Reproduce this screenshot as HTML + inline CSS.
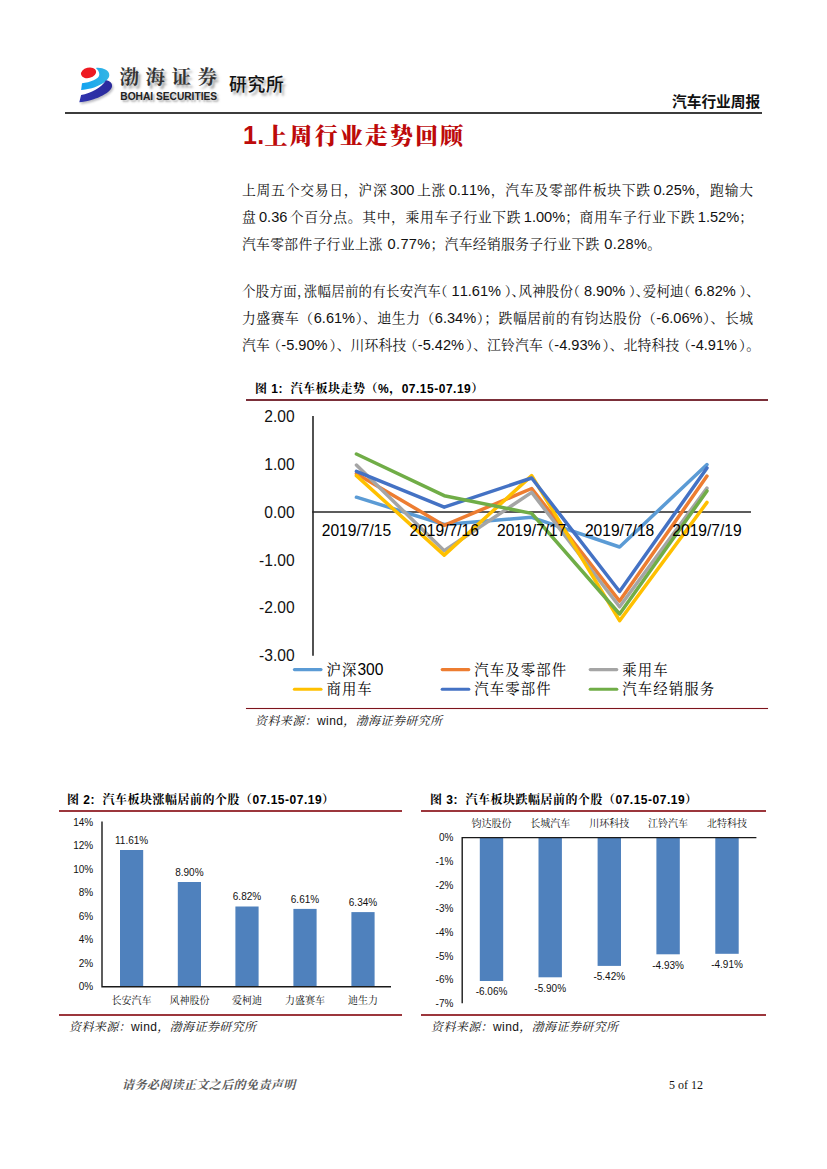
<!DOCTYPE html>
<html lang="zh-CN">
<head>
<meta charset="utf-8">
<title>汽车行业周报</title>
<style>
html,body{margin:0;padding:0;background:#fff;}
body{width:827px;height:1169px;position:relative;overflow:hidden;
  font-family:"Liberation Sans","Noto Serif CJK SC",serif;color:#000;}
.abs{position:absolute;white-space:nowrap;}
.kai{font-family:"Liberation Sans","Noto Serif CJK SC",serif;}
.hei{font-family:"Liberation Sans","Noto Sans CJK SC",sans-serif;}
.rule{position:absolute;height:2px;}
/* body text */
.ln{position:absolute;left:242px;width:511px;height:27px;line-height:27px;font-size:13.8px;
  white-space:nowrap;text-align:justify;text-align-last:justify;color:#111;word-spacing:-2px;
  text-spacing-trim:space-all;font-kerning:none;font-feature-settings:"chws" 0,"halt" 0,"kern" 0;}
.ln.last{text-align-last:left;}
.ln .n{font-size:14.6px;}
.hl{margin-left:-6.9px;}
.hr{margin-right:-6.9px;}
.qr{margin-right:-3.4px;}
.ql{margin-left:-2.6px;}
.cap{position:absolute;font-size:12px;font-weight:700;line-height:16px;height:16px;white-space:nowrap;color:#000;letter-spacing:.5px;font-kerning:none;}
.cap .g{margin-right:7.5px;}
.src{position:absolute;font-size:12px;line-height:16px;height:16px;white-space:nowrap;color:#111;letter-spacing:.4px;}
.src i{font-style:italic;}
.src b{font-weight:400;font-style:normal;}
svg{position:absolute;overflow:visible;}
svg text{font-family:"Liberation Sans","Noto Serif CJK SC",serif;}
</style>
</head>
<body>

<!-- ================= HEADER ================= -->
<svg id="logo" style="left:72px;top:60px" width="50" height="50" viewBox="0 0 50 50">
  <defs>
    <filter id="ls" x="-20%" y="-20%" width="150%" height="150%"><feGaussianBlur stdDeviation="1"/></filter>
    <linearGradient id="gc" x1="0" y1="0" x2="1" y2="0"><stop offset="0" stop-color="#12a2f0"/><stop offset="1" stop-color="#34b6e4"/></linearGradient>
    <linearGradient id="gd" x1="0" y1="0" x2="1" y2="0"><stop offset="0" stop-color="#3034ae"/><stop offset="1" stop-color="#2a2a9c"/></linearGradient>
  </defs>
  <g opacity="0.4" filter="url(#ls)" transform="translate(1.3,1.7)">
    <path d="M33.9,20.3 C38,21 41,23.5 39.9,27 C38,33.5 22,41 7.3,42.3 L9.1,35.1 C19,33 29.5,28 33.9,20.3 Z" fill="#556"/>
  </g>
  <path d="M23.9,7.9 C30,7.1 37.6,10 37.3,15.3 C36.9,21.6 24.2,29 9.1,30.1 L10,23.2 C18,22.5 27.3,19.1 27.3,14.5 C27.3,12 26,9.8 23.9,7.9 Z" fill="url(#gc)"/>
  <path d="M33.9,20.3 C38,21 41,23.5 39.9,27 C38,33.5 22,41 7.3,42.3 L9.1,35.1 C19,33 29.5,28 33.9,20.3 Z" fill="url(#gd)"/>
  <ellipse cx="16.6" cy="12.8" rx="7.7" ry="5.2" transform="rotate(-14 16.6 12.8)" fill="#ee1a22"/>
</svg>
<div class="abs" id="lg1" style="left:119.5px;top:65.4px;font-family:'Liberation Serif','Noto Serif CJK SC',serif;font-weight:700;font-size:19.6px;line-height:26px;letter-spacing:6.4px;color:#333;text-shadow:2.5px 2.5px 2.5px rgba(90,90,90,.55);">渤海证券</div>
<div class="abs" id="lg2" style="left:120.3px;top:89.5px;font-family:'Liberation Sans',sans-serif;font-weight:700;font-size:10.2px;line-height:14px;color:#222;text-shadow:2px 2px 2px rgba(90,90,90,.5);">BOHAI SECURITIES</div>
<div class="abs hei" id="lg3" style="left:229px;top:73.2px;font-weight:500;font-size:17.8px;line-height:24px;letter-spacing:.7px;color:#111;text-shadow:2.5px 2.5px 2.5px rgba(90,90,90,.5);">研究所</div>
<div class="abs hei" id="hdr" style="left:672px;top:91.7px;font-weight:700;font-size:14.7px;line-height:20px;color:#111;">汽车行业周报</div>
<div class="rule" style="left:65px;top:111.6px;width:697px;height:2px;background:#3c3c3c;"></div>

<!-- ================= TITLE ================= -->
<div class="abs kai" id="title" style="left:243px;top:120px;font-size:23px;font-weight:900;line-height:32px;letter-spacing:2.1px;color:#bd0a0a;"><span style="letter-spacing:.3px;font-size:25px;line-height:20px;">1.</span>上周行业走势回顾</div>

<!-- ================= BODY ================= -->
<div class="ln" style="top:177px">上周五个交易日，沪深 <span class="n">300</span> 上涨 <span class="n">0.11%</span>，汽车及零部件板块下跌 <span class="n">0.25%</span>，跑输大</div>
<div class="ln" style="top:204px">盘 <span class="n">0.36</span> 个百分点。其中，乘用车子行业下跌 <span class="n">1.00%</span>；商用车子行业下跌 <span class="n">1.52%</span>；</div>
<div class="ln last" style="top:231px;letter-spacing:.3px;word-spacing:0.5px">汽车零部件子行业上涨 <span class="n">0.77%</span>；汽车经销服务子行业下跌 <span class="n">0.28%</span>。</div>

<div class="ln" style="top:278px;font-size:13.45px;word-spacing:-.3px">个股方面<span class="hr">，</span>涨幅居前的有长安汽车<span class="hl">（</span> <span class="n">11.61%</span> <span class="hr">）</span><span class="hr">、</span>风神股份<span class="hl">（</span> <span class="n">8.90%</span> <span class="hr">）</span><span class="hr">、</span>爱柯迪<span class="hl">（</span> <span class="n">6.82%</span> <span class="hr">）</span><span class="hr">、</span></div>
<div class="ln" style="top:305px">力盛赛车（<span class="n">6.61%</span><span class="hr">）</span>、迪生力（<span class="n">6.34%</span><span class="hr">）</span>；跌幅居前的有钧达股份（<span class="n">-6.06%</span><span class="hr">）</span>、长城</div>
<div class="ln" style="top:332px">汽车<span class="ql">（</span><span class="n">-5.90%</span> <span class="hr">）</span>、川环科技<span class="ql">（</span><span class="n">-5.42%</span> <span class="hr">）</span>、江铃汽车<span class="ql">（</span><span class="n">-4.93%</span> <span class="hr">）</span>、北特科技<span class="ql">（</span><span class="n">-4.91%</span> <span class="hr">）</span><span class="hr">。</span></div>

<!-- ================= FIG 1 ================= -->
<div class="cap kai" id="cap1" style="left:255px;top:380.5px">图 1<span class="g">:</span>汽车板块走势（%，07.15-07.19）</div>
<div class="rule" style="left:246px;top:399.1px;width:522px;height:1.8px;background:#7b2f39;"></div>
<svg id="ch1" style="left:0;top:0" width="827" height="760" viewBox="0 0 827 760">
<g font-size="15.6" fill="#111">
<text x="294.6" y="421.8" text-anchor="end">2.00</text>
<text x="294.6" y="469.7" text-anchor="end">1.00</text>
<text x="294.6" y="517.6" text-anchor="end">0.00</text>
<text x="294.6" y="565.5" text-anchor="end">-1.00</text>
<text x="294.6" y="613.4" text-anchor="end">-2.00</text>
<text x="294.6" y="661.3" text-anchor="end">-3.00</text>
</g>
<path d="M313,416 V655.8" stroke="#333" stroke-width="1.7" fill="none"/>
<path d="M312.2,512 H751" stroke="#262626" stroke-width="1.7" fill="none"/>
<g fill="none" stroke-width="3.5" stroke-linejoin="round" stroke-linecap="round">
<polyline stroke="#5b9bd5" points="356.4,497.2 444.2,524.5 531.7,517.3 619.6,547 707,464.6"/>
<polyline stroke="#ed7d31" points="356.4,473.7 444.2,525.4 531.7,488.5 619.6,601.1 707,476.1"/>
<polyline stroke="#a5a5a5" points="356.4,465.1 444.2,550.8 531.7,492.4 619.6,606.8 707,488.1"/>
<polyline stroke="#ffc000" points="356.4,475.6 444.2,555.1 531.7,475.6 619.6,620.7 707,502.4"/>
<polyline stroke="#4472c4" points="356.4,471.3 444.2,507.2 531.7,478 619.6,591.5 707,467.9"/>
<polyline stroke="#70ad47" points="356.4,454 444.2,495.7 531.7,513.4 619.6,614 707,490.9"/>
</g>
<g font-size="15.6" fill="#000" text-anchor="middle">
<text x="356.4" y="536.3">2019/7/15</text>
<text x="444.2" y="536.3">2019/7/16</text>
<text x="531.7" y="536.3">2019/7/17</text>
<text x="619.6" y="536.3">2019/7/18</text>
<text x="707" y="536.3">2019/7/19</text>
</g>
<g font-size="14.4" letter-spacing="1.1" fill="#000">
<path d="M294.4,669.6 h26.6" stroke="#5b9bd5" stroke-width="3.1" stroke-linecap="round" fill="none"/>
<text x="326.4" y="674.8">沪深<tspan font-size="15.6" letter-spacing="0">300</tspan></text>
<path d="M442.2,669.6 h26.6" stroke="#ed7d31" stroke-width="3.1" stroke-linecap="round" fill="none"/>
<text x="474.2" y="674.8">汽车及零部件</text>
<path d="M590.2,669.6 h26.6" stroke="#a5a5a5" stroke-width="3.1" stroke-linecap="round" fill="none"/>
<text x="622.2" y="674.8">乘用车</text>
<path d="M294.4,689.2 h26.6" stroke="#ffc000" stroke-width="3.1" stroke-linecap="round" fill="none"/>
<text x="326.4" y="694.4">商用车</text>
<path d="M442.2,689.2 h26.6" stroke="#4472c4" stroke-width="3.1" stroke-linecap="round" fill="none"/>
<text x="474.2" y="694.4">汽车零部件</text>
<path d="M590.2,689.2 h26.6" stroke="#70ad47" stroke-width="3.1" stroke-linecap="round" fill="none"/>
<text x="622.2" y="694.4">汽车经销服务</text>
</g>
</svg>
<div class="rule" style="left:246px;top:707.8px;width:522px;height:1.7px;background:#7c141c;box-shadow:0 0 1px rgba(200,40,60,.55);"></div>
<div class="src kai" id="src1" style="left:255px;top:713px"><i>资料来源：</i><b>wind</b><i>，渤海证券研究所</i></div>

<!-- ================= FIG 2 ================= -->
<div class="cap kai" id="cap2" style="left:67px;top:791.5px">图 2<span class="g">:</span>汽车板块涨幅居前的个股（07.15-07.19）</div>
<div class="rule" style="left:59.2px;top:810.1px;width:342.5px;height:1.6px;background:#9c363c;"></div>
<svg id="ch2" style="left:0;top:780px" width="420" height="260" viewBox="0 780 420 260">
<g font-size="10" fill="#111">
<text x="93.2" y="990.4" text-anchor="end">0%</text>
<text x="93.2" y="966.8" text-anchor="end">2%</text>
<text x="93.2" y="943.3" text-anchor="end">4%</text>
<text x="93.2" y="919.7" text-anchor="end">6%</text>
<text x="93.2" y="896.2" text-anchor="end">8%</text>
<text x="93.2" y="872.6" text-anchor="end">10%</text>
<text x="93.2" y="849" text-anchor="end">12%</text>
<text x="93.2" y="825.5" text-anchor="end">14%</text>
</g>
<rect x="120" y="850" width="23.2" height="136.8" fill="#4f81bd"/>
<rect x="177.8" y="882" width="23.2" height="104.8" fill="#4f81bd"/>
<rect x="235.4" y="906.5" width="23.2" height="80.3" fill="#4f81bd"/>
<rect x="293.4" y="908.9" width="23.2" height="77.9" fill="#4f81bd"/>
<rect x="351.4" y="912.1" width="23.2" height="74.7" fill="#4f81bd"/>
<g font-size="10" fill="#111" text-anchor="middle">
<text x="131.6" y="843.6">11.61%</text>
<text x="189.4" y="875.6">8.90%</text>
<text x="247" y="900.1">6.82%</text>
<text x="305" y="902.5">6.61%</text>
<text x="363" y="905.7">6.34%</text>
</g>
<g font-size="10" fill="#111" text-anchor="middle">
<text x="131.6" y="1004.2">长安汽车</text>
<text x="189.4" y="1004.2">风神股份</text>
<text x="247" y="1004.2">爱柯迪</text>
<text x="305" y="1004.2">力盛赛车</text>
<text x="363" y="1004.2">迪生力</text>
</g>
<path d="M102,821.5 V986.8 H391" stroke="#1a1a1a" stroke-width="1.4" fill="none"/>
</svg>
<div class="rule" style="left:59.2px;top:1014.1px;width:342.5px;height:1.6px;background:#9c363c;"></div>
<div class="src kai" id="src2" style="left:69px;top:1018.7px"><i>资料来源：</i><b>wind</b><i>，渤海证券研究所</i></div>

<!-- ================= FIG 3 ================= -->
<div class="cap kai" id="cap3" style="left:430px;top:791.5px">图 3<span class="g">:</span>汽车板块跌幅居前的个股（07.15-07.19）</div>
<div class="rule" style="left:421.3px;top:810.1px;width:345px;height:1.6px;background:#9c363c;"></div>
<svg id="ch3" style="left:410px;top:780px" width="417" height="260" viewBox="410 780 417 260">
<g font-size="10" fill="#111">
<text x="453.4" y="841.2" text-anchor="end">0%</text>
<text x="453.4" y="864.9" text-anchor="end">-1%</text>
<text x="453.4" y="888.5" text-anchor="end">-2%</text>
<text x="453.4" y="912.2" text-anchor="end">-3%</text>
<text x="453.4" y="935.9" text-anchor="end">-4%</text>
<text x="453.4" y="959.6" text-anchor="end">-5%</text>
<text x="453.4" y="983.2" text-anchor="end">-6%</text>
<text x="453.4" y="1006.9" text-anchor="end">-7%</text>
</g>
<rect x="479.8" y="837.6" width="23.4" height="143.4" fill="#4f81bd"/>
<rect x="538.5" y="837.6" width="23.4" height="139.7" fill="#4f81bd"/>
<rect x="597.6" y="837.6" width="23.4" height="128.3" fill="#4f81bd"/>
<rect x="656.4" y="837.6" width="23.4" height="116.7" fill="#4f81bd"/>
<rect x="715.3" y="837.6" width="23.4" height="116.2" fill="#4f81bd"/>
<g font-size="10" fill="#111" text-anchor="middle">
<text x="491.5" y="995.2">-6.06%</text>
<text x="550.2" y="991.5">-5.90%</text>
<text x="609.3" y="980.1">-5.42%</text>
<text x="668.1" y="968.5">-4.93%</text>
<text x="727" y="968">-4.91%</text>
</g>
<g font-size="10" fill="#111" text-anchor="middle">
<text x="491.5" y="827.4">钧达股份</text>
<text x="550.2" y="827.4">长城汽车</text>
<text x="609.3" y="827.4">川环科技</text>
<text x="668.1" y="827.4">江铃汽车</text>
<text x="727" y="827.4">北特科技</text>
</g>
<path d="M462.2,1003.3 V837.6 H756.4" stroke="#1a1a1a" stroke-width="1.4" fill="none"/>
</svg>
<div class="rule" style="left:421.3px;top:1014.1px;width:345px;height:1.6px;background:#9c363c;"></div>
<div class="src kai" id="src3" style="left:431px;top:1018.7px"><i>资料来源：</i><b>wind</b><i>，渤海证券研究所</i></div>

<!-- ================= FOOTER ================= -->
<div class="abs kai" id="foot" style="left:122px;top:1077px;font-size:12px;font-weight:700;line-height:16px;letter-spacing:.4px;color:#5a5a5a;font-style:italic;">请务必阅读正文之后的免责声明</div>
<div class="abs" id="pg" style="left:669px;top:1077px;font-family:'Liberation Serif',serif;font-size:12px;line-height:16px;color:#111;">5 of 12</div>

</body>
</html>
